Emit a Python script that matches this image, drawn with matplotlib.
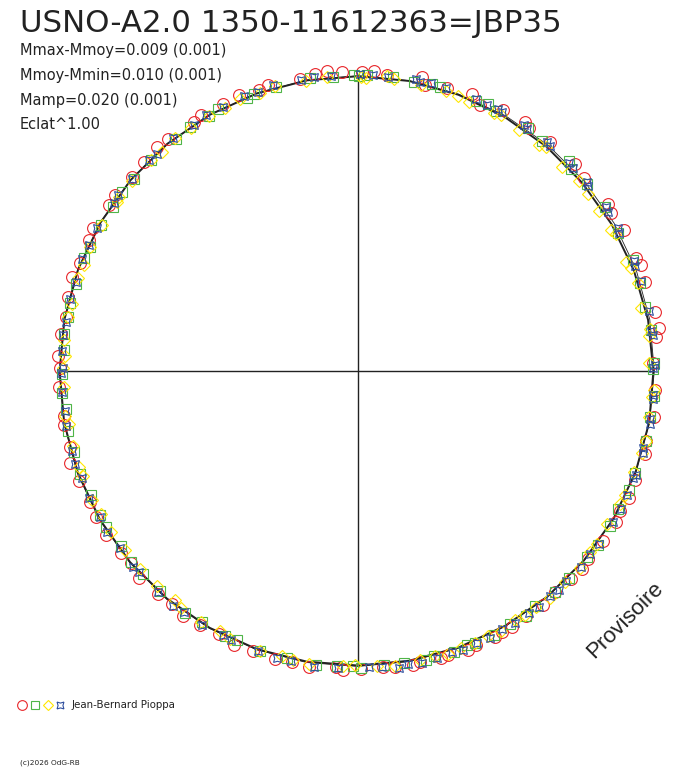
import numpy as np
import matplotlib
matplotlib.use('Agg')
import matplotlib.pyplot as plt

# phase angle [deg, clockwise from top] and relative radius of each measure
red_pts = [(0.8, 1.010), (3.0, 1.014), (5.5, 1.006), (12.3, 1.016), (13.2, 0.992), (17.5, 1.004),
           (22.4, 1.012), (24.6, 0.990), (29.1, 1.008), (33.8, 1.012), (35.2, 1.004), (40.0, 1.010),
           (46.3, 1.014), (49.5, 1.006), (56.2, 1.016), (58.0, 1.008), (62.0, 1.018), (67.9, 1.012),
           (69.5, 1.020), (72.8, 1.014), (78.8, 1.022), (81.9, 1.026), (83.4, 1.012), (88.5, 0.998),
           (93.6, 1.004), (98.9, 1.012), (103.6, 1.002), (106.2, 1.010), (111.5, 1.006), (115.0, 1.012),
           (118.0, 1.004), (120.4, 1.010), (124.7, 1.008), (129.2, 1.004), (131.6, 1.010), (134.4, 1.006),
           (138.3, 1.002), (141.7, 1.008), (145.6, 1.004), (149.0, 1.010), (151.1, 1.006), (152.7, 1.012),
           (156.7, 1.008), (158.4, 1.014), (162.4, 1.006), (163.8, 1.010), (167.9, 1.004), (169.4, 1.012),
           (172.9, 1.008), (175.1, 1.002), (179.4, 1.006), (182.9, 1.010), (184.2, 1.002), (189.4, 1.012),
           (192.7, 1.008), (196.1, 1.014), (200.5, 1.010), (204.3, 1.014), (207.9, 1.006), (211.8, 1.010),
           (215.6, 1.016), (218.6, 1.008), (221.9, 1.012), (226.6, 1.018), (229.8, 1.006), (232.4, 1.010),
           (237.0, 1.016), (240.9, 1.012), (243.9, 1.008), (248.5, 1.014), (252.2, 1.022), (255.2, 1.006),
           (259.6, 1.010), (261.3, 1.004), (266.9, 1.012), (270.6, 1.008), (272.9, 1.016), (277.2, 1.010),
           (280.5, 1.004), (284.4, 1.012), (288.3, 1.016), (291.2, 1.008), (296.0, 1.012), (298.4, 1.018),
           (303.7, 1.010), (306.0, 1.014), (310.6, 1.006), (314.4, 1.010), (318.1, 1.016), (320.7, 1.012),
           (326.6, 1.006), (328.4, 1.014), (333.2, 1.010), (336.6, 1.016), (340.6, 1.008), (342.6, 1.012),
           (348.7, 1.006), (351.8, 1.014), (354.0, 1.018), (357.0, 1.010)]
green_pts = [(0.2, 0.998), (1.8, 1.002), (6.8, 1.000), (11.0, 0.996), (14.4, 1.002), (16.2, 0.998),
             (23.6, 0.996), (26.0, 1.004), (28.0, 0.994), (34.9, 1.002), (38.7, 0.996), (45.1, 1.004),
             (46.4, 0.992), (50.7, 0.998), (56.4, 1.000), (62.0, 0.996), (68.0, 1.002), (72.6, 0.998),
             (77.4, 0.994), (82.0, 1.000), (88.4, 1.002), (89.6, 0.998), (94.9, 1.004), (99.0, 0.998),
             (103.6, 1.002), (110.2, 0.996), (113.8, 1.000), (118.0, 0.994), (121.6, 0.998), (125.9, 1.002),
             (129.1, 0.996), (134.4, 1.000), (138.3, 0.998), (142.9, 0.994), (145.6, 1.002), (149.0, 0.998),
             (152.7, 1.004), (156.7, 1.000), (158.4, 0.996), (161.2, 1.002), (165.0, 0.998), (166.7, 1.004),
             (171.0, 1.000), (174.9, 0.998), (179.4, 1.002), (181.0, 0.996), (184.1, 1.000), (188.2, 1.004),
             (194.0, 0.998), (199.3, 1.002), (204.3, 0.996), (206.7, 1.002), (211.8, 0.998), (215.6, 1.004),
             (222.0, 1.000), (226.6, 0.998), (229.8, 1.002), (233.6, 0.996), (238.2, 1.002), (240.9, 0.998),
             (245.1, 0.996), (249.7, 1.002), (254.0, 0.998), (258.4, 1.000), (262.5, 0.996), (265.7, 1.002),
             (269.4, 1.000), (274.1, 0.996), (277.2, 1.002), (280.5, 0.998), (283.2, 1.000), (287.1, 0.996),
             (292.4, 1.002), (294.8, 0.998), (299.6, 1.000), (303.7, 0.996), (307.2, 1.002), (310.6, 0.998),
             (315.6, 1.000), (321.9, 0.996), (325.4, 1.002), (329.6, 0.998), (332.0, 1.004), (337.8, 0.996),
             (339.4, 1.000), (343.8, 0.998), (350.6, 1.002), (355.1, 0.996), (359.2, 1.000)]
yellow_pts = [(0.6, 0.994), (1.5, 0.990), (5.6, 1.000), (7.0, 0.994), (12.4, 0.988), (17.4, 0.992),
              (20.0, 0.990), (22.4, 0.984), (27.8, 0.986), (29.2, 0.992), (33.8, 0.980), (38.6, 0.978),
              (40.0, 0.986), (45.0, 0.976), (49.4, 0.984), (52.5, 0.980), (56.4, 0.976), (60.8, 0.978),
              (62.0, 0.988), (67.9, 0.976), (69.3, 0.986), (72.6, 0.992), (77.4, 0.978), (81.9, 0.996),
              (83.2, 0.990), (88.4, 0.982), (93.6, 1.002), (95.0, 0.996), (99.0, 0.994), (103.6, 1.000),
              (106.2, 0.998), (110.2, 0.992), (114.9, 0.996), (117.0, 0.992), (121.6, 0.988), (125.9, 0.998),
              (127.9, 0.994), (131.6, 1.002), (135.6, 0.998), (139.8, 1.004), (142.9, 0.998), (145.6, 1.000),
              (147.8, 0.996), (151.1, 1.002), (153.9, 0.998), (156.7, 1.000), (159.6, 0.998), (162.4, 1.002),
              (164.9, 0.996), (167.9, 1.000), (172.9, 1.004), (176.3, 0.998), (180.6, 0.992), (183.0, 0.998),
              (189.4, 1.004), (192.7, 1.002), (195.0, 0.996), (199.3, 1.004), (205.5, 1.002), (208.0, 0.996),
              (212.0, 1.000), (216.8, 0.998), (218.6, 0.992), (223.1, 0.996), (227.8, 0.994), (232.4, 0.992),
              (237.0, 0.996), (240.9, 0.994), (244.0, 0.998), (249.1, 0.994), (251.0, 0.998), (255.2, 0.996),
              (259.6, 0.994), (261.3, 1.000), (266.9, 0.994), (270.6, 0.996), (273.0, 0.992), (276.0, 0.998),
              (280.5, 0.996), (283.2, 0.992), (288.3, 0.996), (291.2, 0.994), (294.8, 0.998), (299.6, 0.996),
              (305.0, 0.994), (306.0, 1.000), (310.0, 0.996), (315.6, 0.998), (318.1, 0.994), (321.9, 1.002),
              (325.4, 0.996), (329.6, 0.998), (333.2, 0.994), (336.6, 1.000), (340.6, 0.996), (343.8, 1.002),
              (349.9, 0.996), (353.9, 0.998)]
blue_pts = [(0.4, 1.002), (2.9, 1.000), (5.8, 0.998), (11.2, 1.004), (12.2, 0.998), (14.2, 1.002),
            (17.2, 1.000), (23.4, 1.002), (25.8, 0.998), (28.2, 1.004), (29.0, 1.000), (34.0, 1.002),
            (35.0, 0.998), (39.6, 1.004), (40.4, 1.000), (45.4, 1.002), (46.6, 1.000), (50.4, 1.004),
            (51.2, 0.998), (56.6, 1.004), (57.6, 1.000), (61.2, 1.002), (62.2, 0.998), (68.2, 1.004),
            (69.2, 1.000), (72.3, 1.002), (78.3, 1.004), (82.2, 1.000), (83.0, 1.004), (88.8, 1.002),
            (89.4, 0.998), (94.6, 1.000), (95.4, 1.002), (99.3, 0.998), (100.3, 1.002), (105.2, 0.996),
            (106.0, 1.000), (110.5, 1.002), (111.2, 0.998), (114.7, 1.000), (117.7, 1.004), (120.7, 1.000),
            (125.6, 1.002), (128.2, 0.998), (131.3, 1.004), (135.3, 1.000), (137.4, 1.004), (139.5, 0.998),
            (142.6, 1.004), (144.7, 1.000), (148.1, 1.004), (150.8, 1.000), (153.6, 1.006), (156.4, 1.002),
            (159.3, 1.008), (161.5, 1.002), (164.7, 1.006), (167.6, 1.010), (170.3, 1.004), (172.1, 1.012),
            (175.4, 1.004), (177.8, 1.002), (183.8, 1.006), (188.5, 1.010), (193.0, 1.004), (195.8, 1.008),
            (199.6, 1.004), (205.2, 1.006), (207.0, 1.002), (211.5, 1.008), (215.9, 1.004), (218.3, 1.010),
            (222.2, 1.006), (227.5, 1.004), (228.9, 1.008), (233.3, 1.002), (237.3, 1.006), (240.6, 1.002),
            (244.8, 1.004), (248.8, 1.000), (251.9, 1.006), (254.3, 1.002), (259.3, 1.004), (262.2, 1.000),
            (266.0, 1.002), (269.7, 1.004), (270.6, 0.998), (273.8, 1.002), (276.9, 1.004), (279.6, 1.000),
            (284.1, 1.004), (287.4, 1.000), (292.1, 1.006), (295.1, 1.002), (298.7, 1.004), (304.6, 1.000),
            (306.3, 1.006), (310.3, 1.002), (315.3, 1.004), (317.2, 1.000), (321.6, 1.004), (326.3, 1.000),
            (329.3, 1.006), (332.9, 1.002), (337.5, 1.004), (340.3, 1.000), (343.5, 1.006), (349.0, 1.002),
            (351.5, 1.004), (354.8, 1.000)]

# mean light curve, radius every 10 deg
curve_deg = np.arange(0, 370, 10)
curve_r = [0.996, 0.995, 0.993, 0.991, 0.990, 0.989, 0.990, 0.992, 0.995, 0.998,
           0.999, 0.998, 0.997, 0.996, 0.995, 0.994, 0.994, 0.994, 0.995, 0.997,
           1.000, 1.002, 1.004, 1.005, 1.006, 1.007, 1.008, 1.008, 1.007, 1.006,
           1.004, 1.003, 1.002, 1.000, 0.998, 0.997, 0.996]
curve2_r = [0.997, 0.996, 0.995, 0.996, 0.997, 0.998, 0.999, 1.000, 1.001, 1.001,
            1.000, 0.999, 0.998, 0.997, 0.996, 0.996, 0.996, 0.997, 0.998, 1.000,
            1.002, 1.004, 1.006, 1.007, 1.008, 1.009, 1.009, 1.009, 1.008, 1.007,
            1.005, 1.004, 1.002, 1.000, 0.999, 0.998, 0.997]

title = 'USNO-A2.0 1350-11612363=JBP35'
infos = ['Mmax-Mmoy=0.009 (0.001)', 'Mmoy-Mmin=0.010 (0.001)',
         'Mamp=0.020 (0.001)', 'Eclat^1.00']
observer = 'Jean-Bernard Pioppa'

RED = '#e8262a'
GREEN = '#4fb548'
YELLOW = '#ffe600'
BLUE = '#2f4f9e'
INK = '#222222'
star = (4, 1, 45)


def to_xy(pts):
    a = np.radians([p[0] for p in pts])
    r = np.array([p[1] for p in pts])
    return r*np.sin(a), r*np.cos(a)


plt.rcParams['font.family'] = ['DejaVu Sans']
fig = plt.figure(figsize=(6.88, 7.68), dpi=100, facecolor='white')

# circle of radius 1 = 296 px, centre at (358, 371) px
R = 296.0
half = 330.0
ax = fig.add_axes([(358-half)/688, (768-371-half)/768, 2*half/688, 2*half/768])
ax.set_xlim(-half/R, half/R)
ax.set_ylim(-half/R, half/R)
ax.set_aspect('equal')
ax.axis('off')

ax.plot([-1.006, 1.0], [0, 0], color=INK, lw=1.0, zorder=1)
ax.plot([0, 0], [-0.994, 0.994], color=INK, lw=1.0, zorder=1)

ca = np.radians(curve_deg)
ax.plot(np.array(curve_r)*np.sin(ca), np.array(curve_r)*np.cos(ca), color=INK, lw=1.4, zorder=2)
ax.plot(np.array(curve2_r)*np.sin(ca), np.array(curve2_r)*np.cos(ca), color=INK, lw=0.6, zorder=2)

x, y = to_xy(red_pts)
ax.plot(x, y, 'o', ms=8.5, mfc='none', mec=RED, mew=0.8, ls='none', zorder=3)
x, y = to_xy(green_pts)
ax.plot(x, y, 's', ms=7, mfc='none', mec=GREEN, mew=0.8, ls='none', zorder=3)
x, y = to_xy(yellow_pts)
ax.plot(x, y, 'D', ms=6.3, mfc='none', mec=YELLOW, mew=0.8, ls='none', zorder=3)
x, y = to_xy(blue_pts)
ax.plot(x, y, marker=star, ms=8, mfc='none', mec=BLUE, mew=0.8, ls='none', zorder=3)

# texts
fig.text(20/688, 1-9/768, title, fontsize=22.2, color=INK, va='top', ha='left')
for i, s in enumerate(infos):
    fig.text(20/688, 1-(51+24.5*i)/768, s, fontsize=10.5, color=INK, va='center', ha='left')
fig.text(625/688, 1-620/768, 'Provisoire', fontsize=16, color=INK, rotation=45,
         ha='center', va='center', family='Liberation Sans')

# legend row
lg = fig.add_axes([0, 0, 1, 1], facecolor='none')
lg.set_xlim(0, 688)
lg.set_ylim(768, 0)
lg.axis('off')
lg.plot([22], [705], 'o', ms=7, mfc='none', mec=RED, mew=0.8)
lg.plot([35], [705], 's', ms=6, mfc='none', mec=GREEN, mew=0.8)
lg.plot([48], [705], 'D', ms=5, mfc='none', mec=YELLOW, mew=0.8)
lg.plot([60], [705], marker=star, ms=7, mfc='none', mec=BLUE, mew=0.8)
lg.text(72, 705, observer, fontsize=7.4, color=INK, va='center', ha='left')
lg.text(20, 763, '(c)2026 OdG-RB', fontsize=5.3, color=INK, va='center', ha='left')

fig.savefig('out.png', dpi=100, facecolor='white')
